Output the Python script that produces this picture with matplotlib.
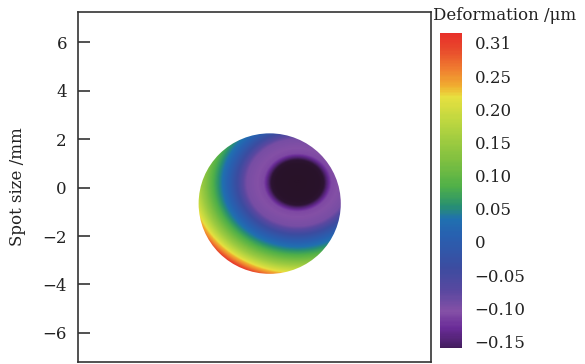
import numpy as np
import matplotlib
matplotlib.use("Agg")
import matplotlib.pyplot as plt
from matplotlib.colors import LinearSegmentedColormap, Normalize
from matplotlib.patches import Circle

# ---- data ----
# beam spot (mm)
spot_center = (0.62, -0.66)
spot_radius = 2.9
# location of the deepest deformation (mm) and horizontal stretch of the contours
dip_center = (1.76, 0.21)
dip_stretch = 1.15
# radial deformation profile (elliptical distance from dip, mm -> um)
profile_r = [0.0, 0.78, 0.98, 1.08, 1.20, 1.80, 2.08, 2.40, 2.78, 3.10, 3.40, 3.65, 3.86, 4.08]
profile_v = [-0.21, -0.20, -0.165, -0.14, -0.11, -0.095, -0.05, 0.0, 0.05, 0.10, 0.15, 0.20, 0.25, 0.31]

yticks = [-6, -4, -2, 0, 2, 4, 6]
cbar_labels = ["\u22120.15", "\u22120.10", "\u22120.05", "0", "0.05", "0.10", "0.15", "0.20", "0.25", "0.31"]
cbar_min, cbar_max = -0.16, 0.315

# colormap stops (value, colour)
cmap_vals = [-0.21, -0.175, -0.156, -0.13, -0.105, -0.075, -0.04, 0.009, 0.034, 0.054, 0.084, 0.124, 0.185, 0.22, 0.234, 0.26, 0.29, 0.315]
cmap_cols = ["#281228", "#2c1432", "#4a2068", "#6a2c98", "#8450a6", "#5a48a0", "#3c4ca0", "#2860b0", "#2070b0",
             "#289070", "#50b048", "#80c040", "#c0d840", "#e8e040", "#f0b030", "#f08030", "#e84a2c", "#e8302a"]

plt.rcParams['font.family'] = ['DejaVu Serif']
plt.rcParams['axes.unicode_minus'] = True

lo, hi = cmap_vals[0], cmap_vals[-1]
cmap = LinearSegmentedColormap.from_list(
    "def", [((v - lo) / (hi - lo), c) for v, c in zip(cmap_vals, cmap_cols)])
norm = Normalize(lo, hi)

fig = plt.figure(figsize=(5.85, 3.64), dpi=100)
ax = fig.add_axes([78 / 585, 2 / 364, 353 / 585, 350 / 364])

xs = np.linspace(-7.2, 7.2, 500)
ys = np.linspace(-7.2, 7.25, 500)
X, Y = np.meshgrid(xs, ys)
rho = np.sqrt(((X - dip_center[0]) / dip_stretch) ** 2 + (Y - dip_center[1]) ** 2)
Z = np.interp(rho, profile_r, profile_v)

im = ax.imshow(Z, origin="lower", extent=[xs[0], xs[-1], ys[0], ys[-1]], cmap=cmap, norm=norm,
               interpolation="bilinear", aspect="auto")
clip = Circle(spot_center, spot_radius, transform=ax.transData, facecolor="none", edgecolor="none")
ax.add_patch(clip)
im.set_clip_path(clip)

ax.set_xlim(-7.2, 7.2)
ax.set_ylim(-7.2, 7.25)
ax.set_xticks([])
ax.set_yticks(yticks)
ax.set_yticklabels([str(t).replace("-", "\u2212") for t in yticks])
ax.tick_params(axis="y", direction="in", length=8.5, width=1.2, color="#333333", pad=8,
               labelsize=12, labelcolor="#222222")
for s in ax.spines.values():
    s.set_color("#333333")
    s.set_linewidth(1.2)
ax.set_ylabel("Spot size /mm", fontsize=12, color="#222222")
ax.yaxis.set_label_coords(-0.148, 0.5)

cax = fig.add_axes([440 / 585, 16 / 364, 22 / 585, 315 / 364])
nb = 256
bounds = np.linspace(cbar_min, cbar_max, nb + 1)
cb = fig.colorbar(im, cax=cax, boundaries=bounds)
cb.outline.set_visible(False)
tick_pos = np.linspace(-0.15, 0.30, len(cbar_labels))
cb.set_ticks(tick_pos)
cb.set_ticklabels(cbar_labels)
cax.tick_params(length=0, pad=9, labelsize=12, labelcolor="#222222")
fig.text(433 / 585, 1 - 15 / 364, "Deformation /\u03bcm", ha="left", va="center", fontsize=12, color="#222222")

fig.savefig("out.png", dpi=100)
